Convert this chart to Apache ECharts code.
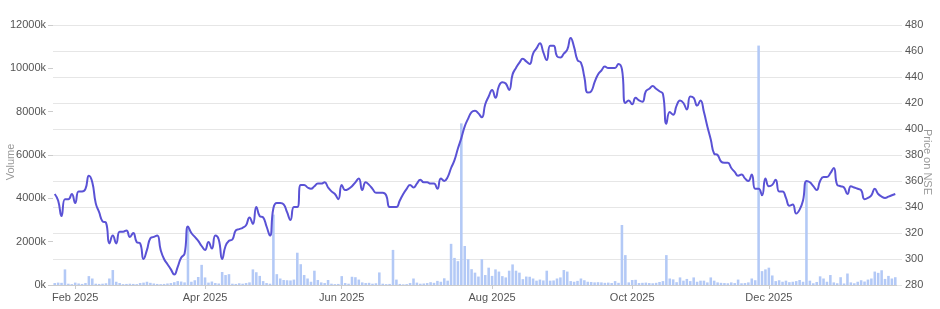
<!DOCTYPE html>
<html><head><meta charset="utf-8">
<script src="https://cdn.jsdelivr.net/npm/echarts@6/dist/echarts.min.js"></script>
<style>html,body{margin:0;padding:0;background:#fff}#c{width:940px;height:309px}</style>
</head><body><div id="c"></div>
<script>
// trading calendar (NSE): first session shown and market holidays
const startDate = '2025-01-24';
const holidays = ['2025-02-26','2025-03-14','2025-03-31','2025-04-10','2025-04-14','2025-04-18','2025-05-01',
  '2025-08-15','2025-08-27','2025-10-02','2025-10-22','2025-11-05','2025-12-25','2026-01-15'];
const monthNames = ['Jan','Feb','Mar','Apr','May','Jun','Jul','Aug','Sep','Oct','Nov','Dec'];
const labelMonths = [1,3,5,7,9,11]; // Feb, Apr, Jun, Aug, Oct, Dec

// axis ticks
const volumeTicks = [0,2000,4000,6000,8000,10000,12000];       // thousands
const priceTicks = [280,300,320,340,360,380,400,420,440,460,480];

// closing price on NSE
const price = [
350,345,333,346,346,350,343,352,352,354,364,359,343,336,329,328,312,318,312,321,
321,322,317,320,313,312,300,307,316,317,318,307,300,296,292,288,294,301,304,325,
320,317,314,310,307,313,308,318,315,300,310,314,315,322,323,324,326,332,327,340,
333,332,325,318,339,343,343,342,336,330,340,340,357,357,355,354,356,358,358,359,
355,352,350,346,357,353,354,356,359,362,353,359,357,354,351,351,351,349,340,340,
340,345,350,354,357,355,358,361,359,359,358,358,354,362,360,363,370,376,385,393,
402,408,413,414,412,409,419,425,430,424,433,436,435,430,442,447,451,454,452,450,
458,462,466,459,453,464,464,456,455,458,461,470,463,453,451,440,428,429,436,442,
445,448,447,447,447,450,446,420,422,419,424,422,421,429,431,433,431,429,427,404,
413,411,418,422,420,415,425,424,418,422,413,402,392,381,380,375,374,374,370,367,
364,365,362,360,365,354,354,349,362,356,357,361,352,352,347,341,342,335,338,345,
360,359,356,353,360,363,363,366,370,357,356,355,350,356,355,354,353,346,347,349,
354,350,348,347,348,349,350
];

// traded volume, thousands of shares
const volume = [
90,110,100,720,60,40,110,70,50,90,410,300,60,50,60,80,300,690,150,90,
40,50,60,50,40,90,110,150,100,70,50,40,50,70,90,130,180,160,120,2600,
150,220,370,930,350,110,160,90,70,600,460,500,60,50,80,60,90,120,720,590,
420,180,90,60,3250,500,300,230,220,210,250,1490,960,460,300,150,660,230,120,90,
230,60,40,50,410,90,60,380,360,250,120,90,100,60,80,580,60,40,50,1620,
250,50,30,40,90,300,110,60,70,90,130,100,190,150,310,200,1900,1250,1100,7460,
1800,1190,730,570,390,1190,460,800,420,720,620,410,350,660,950,660,570,270,390,380,
300,200,250,210,660,200,210,300,350,690,620,180,150,190,300,220,150,140,120,130,
120,100,110,90,180,100,2770,1380,120,230,240,90,100,110,90,80,100,140,180,1380,
300,260,130,350,200,280,180,350,150,200,200,120,350,200,120,100,90,80,120,90,
250,80,90,120,300,220,11050,640,720,800,440,180,220,150,200,130,150,180,230,150,
4750,200,80,140,400,300,150,460,120,80,360,70,530,120,80,150,220,160,250,300,
620,560,680,280,420,300,360
];

// build trading-day categories
function pad(n){return (n<10?'0':'')+n;}
const dates = [];
{
  const d = new Date(startDate + 'T00:00:00Z');
  while (dates.length < price.length) {
    const s = d.getUTCFullYear() + '-' + pad(d.getUTCMonth()+1) + '-' + pad(d.getUTCDate());
    const wd = d.getUTCDay();
    if (wd !== 0 && wd !== 6 && holidays.indexOf(s) < 0) dates.push(s);
    d.setUTCDate(d.getUTCDate() + 1);
  }
}
function isLabelDay(idx){
  if (idx === 0) return false;
  const m = +dates[idx].slice(5,7) - 1;
  const pm = +dates[idx-1].slice(5,7) - 1;
  return m !== pm && labelMonths.indexOf(m) >= 0;
}

const gridColor = '#e6e6e6';
const chart = echarts.init(document.getElementById('c'));
chart.setOption({
  animation: false,
  textStyle: { fontFamily: 'Liberation Sans, Arial, sans-serif' },
  grid: { left: 53, right: 43, top: 25, bottom: 24, containLabel: false, outerBoundsMode: 'none' },
  xAxis: {
    type: 'category',
    data: dates,
    boundaryGap: true,
    axisLine: { show: true, lineStyle: { color: '#cccccc' } },
    axisTick: { show: true, alignWithLabel: true, length: 4, interval: (i) => isLabelDay(i), lineStyle: { color: '#cccccc' } },
    axisLabel: {
      interval: (i) => isLabelDay(i),
      formatter: (v) => monthNames[+v.slice(5,7)-1] + ' ' + v.slice(0,4),
      color: '#555', fontSize: 11, margin: 7
    },
    splitLine: { show: false }
  },
  yAxis: [
    {
      type: 'value', position: 'left',
      min: volumeTicks[0], max: volumeTicks[volumeTicks.length-1], interval: volumeTicks[1]-volumeTicks[0],
      name: 'Volume', nameLocation: 'middle', nameGap: 37, nameMoveOverlap: false,
      nameTextStyle: { color: '#999', fontSize: 11, padding: [0, 14, 0, 0] },
      axisLine: { show: false },
      axisTick: { show: true, length: 5, lineStyle: { color: '#cccccc' } },
      axisLabel: { formatter: (v) => v + 'k', color: '#555', fontSize: 11, margin: 7 },
      splitLine: { show: false }
    },
    {
      type: 'value', position: 'right',
      min: priceTicks[0], max: priceTicks[priceTicks.length-1], interval: priceTicks[1]-priceTicks[0],
      name: 'Price on NSE', nameLocation: 'middle', nameGap: 25, nameRotate: -90, nameMoveOverlap: false,
      nameTextStyle: { color: '#999', fontSize: 11, padding: [0, 0, 0, 14] },
      axisLine: { show: false },
      axisTick: { show: true, length: 5, lineStyle: { color: gridColor } },
      axisLabel: { color: '#555', fontSize: 11, margin: 8 },
      splitLine: { show: true, lineStyle: { color: gridColor, width: 1 } }
    }
  ],
  series: [
    {
      type: 'bar', yAxisIndex: 0, data: volume,
      barCategoryGap: '25%',
      itemStyle: { color: '#b3c9f6' },
      z: 1
    },
    {
      type: 'line', yAxisIndex: 1, data: price,
      smooth: true, showSymbol: false, symbol: 'none',
      lineStyle: { color: '#5a52d5', width: 2 },
      z: 3
    }
  ]
});
</script>
</body></html>
